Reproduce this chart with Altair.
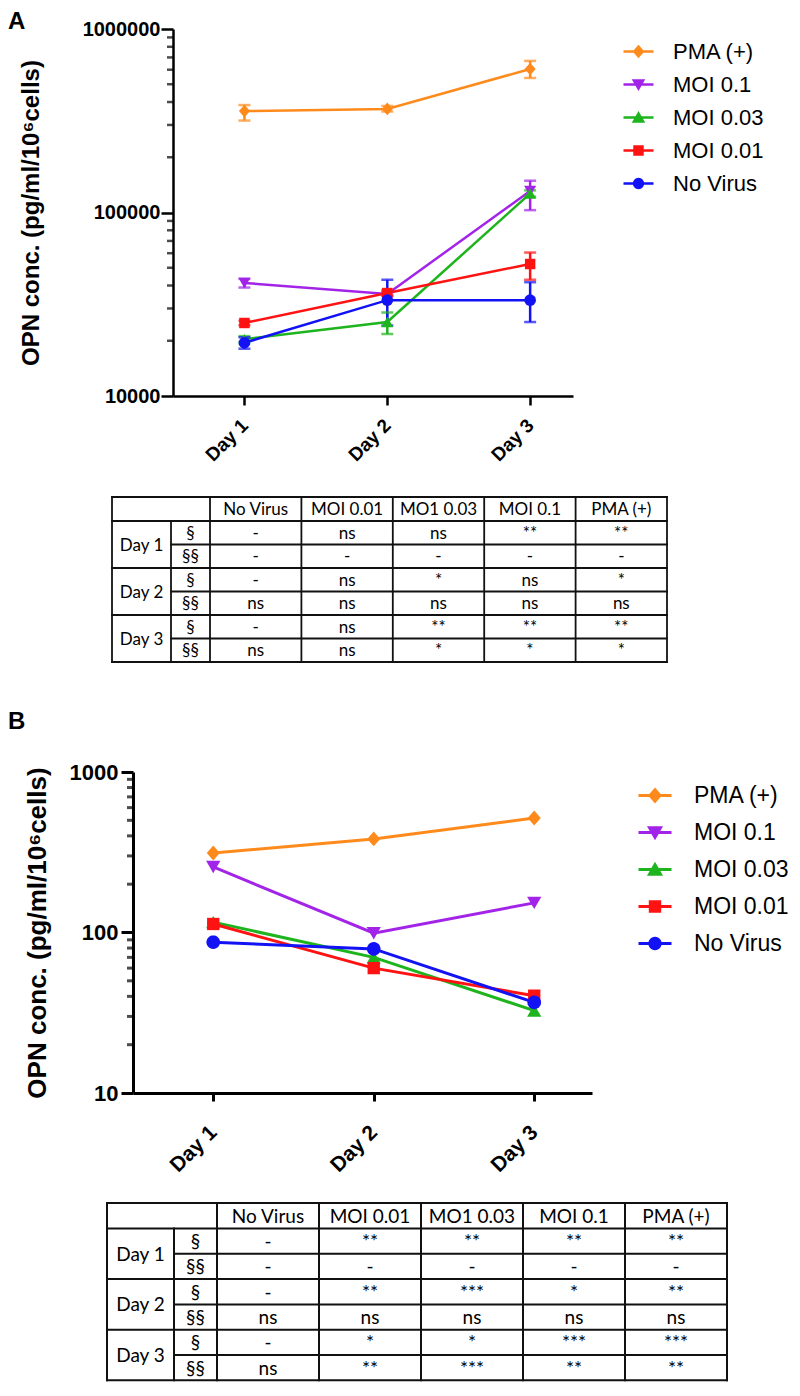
import math
import altair as alt
import pandas as pd

# ---------------- data ----------------
DAY_NUMS = [1, 2, 3]
DAY_LABELS = ["Day 1", "Day 2", "Day 3"]
SERIES = ["PMA (+)", "MOI 0.1", "MOI 0.03", "MOI 0.01", "No Virus"]
COLORS = ["#FF8A1C", "#A224E8", "#1EB41E", "#FF1212", "#1212F5"]
PANEL_TAGS = ["A", "B"]
Y_TITLE = "OPN conc. (pg/ml/10\u2076cells)"

# Panel A: mean with lower / upper error bar ends
A_PMA = [357000, 367000, 605000]
A_PMA_LO = [317000, 355000, 541000]
A_PMA_HI = [385000, 380000, 670000]
A_MOI01 = [41300, 36000, 131000]
A_MOI01_LO = [39000, 35200, 103000]
A_MOI01_HI = [43500, 36800, 149000]
A_MOI003 = [20400, 25300, 127000]
A_MOI003_LO = [19600, 21800, 122000]
A_MOI003_HI = [21200, 28500, 132000]
A_MOI001 = [25000, 36400, 52400]
A_MOI001_LO = [24300, 35300, 43000]
A_MOI001_HI = [25700, 37500, 60500]
A_NOV = [19500, 33300, 33300]
A_NOV_LO = [18100, 24200, 25300]
A_NOV_HI = [20900, 43000, 41700]

# Panel B: means
B_PMA = [313, 383, 517]
B_MOI01 = [256, 99, 153]
B_MOI003 = [116, 70, 32.6]
B_MOI001 = [113, 60, 40.4]
B_NOV = [87, 79, 36.7]

A_TICKS = [10000, 100000, 1000000]
A_MINOR = [20000, 30000, 40000, 50000, 60000, 70000, 80000, 90000,
           200000, 300000, 400000, 500000, 600000, 700000, 800000, 900000]
B_TICKS = [10, 100, 1000]
B_MINOR = [20, 30, 40, 50, 60, 70, 80, 90, 200, 300, 400, 500, 600, 700, 800, 900]

# Significance tables
TABLE_COLS = ["No Virus", "MOI 0.01", "MO1 0.03", "MOI 0.1", "PMA (+)"]
TABLE_DAYS = ["Day 1", "Day 2", "Day 3"]
TABLE_SUB = ["\u00a7", "\u00a7\u00a7"]
A_SIG = [
    ["-", "ns", "ns", "**", "**"],
    ["-", "-", "-", "-", "-"],
    ["-", "ns", "*", "ns", "*"],
    ["ns", "ns", "ns", "ns", "ns"],
    ["-", "ns", "**", "**", "**"],
    ["ns", "ns", "*", "*", "*"],
]
B_SIG = [
    ["-", "**", "**", "**", "**"],
    ["-", "-", "-", "-", "-"],
    ["-", "**", "***", "*", "**"],
    ["ns", "ns", "ns", "ns", "ns"],
    ["-", "*", "*", "***", "***"],
    ["ns", "**", "***", "**", "**"],
]

# ---------------- styles ----------------
FONT = "Liberation Sans"
TFONT = "Lato"

STYLE_A = dict(xdom=[0.5, 3.3], xrange=[40, 440], w=440, h=367, yoff=-40, titlex=-130,
               ylab=20, ytitle=24, xlab=19, xtick=9, lw=2.5, axw=2.5, psize=121,
               tag_dx=-165, tag_dy=-19, leg_x=489, leg_y=6, leg_fs=22, leg_lo=18,
               leg_rp=5, leg_r=15, leg_k=0.28, leg_sw=2.5, ylabpad=1, xlabpad=17)
STYLE_B = dict(xdom=[0.5, 3.36], xrange=[0, 459], w=459, h=321, yoff=0, titlex=-83,
               ylab=22, ytitle=26, xlab=21, xtick=8, lw=3, axw=3, psize=169,
               tag_dx=-125, tag_dy=-62, leg_x=504, leg_y=5.5, leg_fs=23, leg_lo=21,
               leg_rp=7, leg_r=16.5, leg_k=0.30, leg_sw=3, ylabpad=3, xlabpad=28)

TSTYLE_A = dict(left=-21, top=101, col_w=[59, 39] + [91.4] * 5, head_h=24, row_h=23.5,
                fs=17, lw=1.8, vw=560, vh=376)
TSTYLE_B = dict(left=-26, top=110, col_w=[67, 43] + [102] * 5, head_h=25.5, row_h=25.3,
                fs=19, lw=2.0, vw=560, vh=286)


def circle_pts(r, n=24):
    return [(r * math.cos(2 * math.pi * i / n), r * math.sin(2 * math.pi * i / n)) for i in range(n)]


MARKERS = [
    [(0, -1.15), (1, 0), (0, 1.15), (-1, 0)],            # diamond
    [(-1.1, -0.95), (1.1, -0.95), (0, 0.95)],            # triangle down
    [(-1.1, 0.95), (1.1, 0.95), (0, -0.95)],             # triangle up
    [(-0.95, -0.95), (0.95, -0.95), (0.95, 0.95), (-0.95, 0.95)],  # square
    circle_pts(1.05),                                     # circle
]


def poly(pts, k=1.0):
    return "M" + "L".join(f"{x * k:.3f},{y * k:.3f}" for x, y in pts) + "Z"


PLOT_PATHS = [poly(m) for m in MARKERS]


def legend_paths(k):
    return ["M-1,0L1,0" + poly(m, k) for m in MARKERS]


def expr_map(keys, vals):
    s = ""
    for key, val in zip(keys[:-1], vals[:-1]):
        s += f"datum.value === '{key}' ? '{val}' : "
    return s + f"'{vals[-1]}'"


def series_frame(means, los=None, his=None):
    rows = []
    for i, s in enumerate(SERIES):
        for j, d in enumerate(DAY_NUMS):
            r = {"series": s, "day": d, "mean": means[i][j]}
            if los is not None:
                r["lo"] = los[i][j]
                r["hi"] = his[i][j]
            rows.append(r)
    return pd.DataFrame(rows)


DF_A = series_frame([A_PMA, A_MOI01, A_MOI003, A_MOI001, A_NOV],
                    [A_PMA_LO, A_MOI01_LO, A_MOI003_LO, A_MOI001_LO, A_NOV_LO],
                    [A_PMA_HI, A_MOI01_HI, A_MOI003_HI, A_MOI001_HI, A_NOV_HI])
DF_B = series_frame([B_PMA, B_MOI01, B_MOI003, B_MOI001, B_NOV])

DAY_EXPR = "[" + ",".join(f"'{d}'" for d in DAY_LABELS) + "][datum.value - 1]"


def make_panel(df, tag, ticks, minor, st):
    xs = alt.Scale(domain=st["xdom"], range=st["xrange"], nice=False, zero=False)
    ys = alt.Scale(type="log", domain=[ticks[0], ticks[-1]], nice=False)
    xax = alt.Axis(values=DAY_NUMS, labelExpr=DAY_EXPR, labelAngle=-45,
                   labelAlign="right", labelBaseline="middle",
                   labelFontSize=st["xlab"], labelFontWeight="bold", labelColor="black",
                   labelFont=FONT, labelPadding=st["xlabpad"], tickSize=st["xtick"],
                   tickWidth=st["axw"], tickColor="black", domainWidth=st["axw"],
                   domainColor="black", grid=False, title=None, labelFlush=False)
    yax = alt.Axis(values=ticks, format="d", offset=st["yoff"], tickSize=12,
                   tickWidth=st["axw"], tickColor="black", domainWidth=st["axw"],
                   domainColor="black", labelFontSize=st["ylab"], labelFontWeight="bold",
                   labelColor="black", labelFont=FONT, labelPadding=st["ylabpad"],
                   title=Y_TITLE, titleFontSize=st["ytitle"], titleFontWeight="bold",
                   titleFont=FONT, titleColor="black", titleX=st["titlex"],
                   titleBaseline="bottom", grid=False, labelFlush=False)
    cscale = alt.Scale(domain=SERIES, range=COLORS)
    X = alt.X("day:Q", scale=xs, axis=xax)
    Y = alt.Y("mean:Q", scale=ys, axis=yax, title=Y_TITLE)

    r = st["leg_r"]
    legend = alt.Legend(
        orient="none", legendX=st["leg_x"], legendY=st["leg_y"], title=None,
        direction="vertical", labelFont=FONT, labelFontSize=st["leg_fs"],
        labelColor="black", labelOffset=st["leg_lo"], rowPadding=st["leg_rp"],
        padding=0, symbolSize=(2 * r) ** 2, symbolStrokeWidth=st["leg_sw"],
        symbolOpacity=1,
        symbolType=alt.ExprRef(expr=expr_map(SERIES, legend_paths(st["leg_k"]))),
        symbolFillColor=alt.ExprRef(expr=expr_map(SERIES, COLORS)),
        symbolStrokeColor=alt.ExprRef(expr=expr_map(SERIES, COLORS)),
    )
    base = alt.Chart(df)
    stroke_enc = alt.Stroke("series:N", scale=cscale, legend=None)
    fill_enc = alt.Fill("series:N", scale=cscale, legend=None)
    layers = [
        base.mark_line(strokeWidth=st["lw"]).encode(
            x=X, y=Y, color=alt.Color("series:N", scale=cscale, legend=legend))
    ]
    if "lo" in df.columns:
        layers.append(base.mark_rule(strokeWidth=st["lw"]).encode(
            x=X, y=alt.Y("lo:Q", scale=ys, axis=yax, title=Y_TITLE), y2="hi:Q", stroke=stroke_enc))
        for f in ["lo", "hi"]:
            layers.append(base.mark_tick(orient="horizontal", size=12, thickness=st["lw"]).encode(
                x=X, y=alt.Y(f"{f}:Q", scale=ys, axis=yax, title=Y_TITLE), fill=fill_enc))
    # one point layer per series, each with its own marker outline
    for s, path in zip(SERIES, PLOT_PATHS):
        layers.append(base.transform_filter(alt.datum.series == s).mark_point(
            filled=True, shape=path, size=st["psize"], opacity=1, strokeWidth=0).encode(
            x=X, y=Y, fill=fill_enc))
    layers.append(alt.Chart(pd.DataFrame({"v": minor})).mark_tick(
        orient="horizontal", size=6, thickness=st["axw"], color="black", xOffset=-3).encode(
        x=alt.X(datum=st["xdom"][0], scale=xs, axis=xax),
        y=alt.Y("v:Q", scale=ys, axis=yax, title=Y_TITLE)))
    layers.append(alt.Chart(pd.DataFrame({"tag": [tag]})).mark_text(
        align="left", baseline="top", dx=st["tag_dx"], dy=st["tag_dy"],
        fontSize=24, fontWeight="bold", font=FONT, color="black").encode(
        x=alt.X(datum=st["xdom"][0], scale=xs, axis=xax),
        y=alt.Y(datum=ticks[-1], scale=ys, axis=yax, title=Y_TITLE),
        text="tag:N"))
    return alt.layer(*layers).properties(width=st["w"], height=st["h"])


def make_table(sig, st):
    cw = st["col_w"]
    edges = [0]
    for w in cw:
        edges.append(edges[-1] + w)
    TW = edges[-1]
    hh, rh = st["head_h"], st["row_h"]
    TH = hh + 6 * rh
    xs = alt.Scale(domain=[0, TW], range=[st["left"], st["left"] + TW], nice=False, zero=False)
    ys = alt.Scale(domain=[0, TH], range=[st["top"], st["top"] + TH], nice=False, zero=False)

    lines = [dict(x1=0, x2=TW, y1=0, y2=0), dict(x1=0, x2=TW, y1=hh, y2=hh)]
    for k in range(1, 7):
        yk = hh + k * rh
        lines.append(dict(x1=edges[1] if k % 2 == 1 else 0, x2=TW, y1=yk, y2=yk))
    lines.append(dict(x1=0, x2=0, y1=0, y2=TH))
    lines.append(dict(x1=edges[1], x2=edges[1], y1=hh, y2=TH))
    for e in edges[2:]:
        lines.append(dict(x1=e, x2=e, y1=0, y2=TH))

    cells = []
    for c, name in enumerate(TABLE_COLS):
        cells.append(dict(cx=(edges[c + 2] + edges[c + 3]) / 2, cy=hh / 2, t=name))
    for d, day in enumerate(TABLE_DAYS):
        cells.append(dict(cx=(edges[0] + edges[1]) / 2, cy=hh + (2 * d + 1) * rh, t=day))
        for s, sub in enumerate(TABLE_SUB):
            r = 2 * d + s
            cy = hh + (r + 0.5) * rh
            cells.append(dict(cx=(edges[1] + edges[2]) / 2, cy=cy, t=sub))
            for c in range(5):
                cells.append(dict(cx=(edges[c + 2] + edges[c + 3]) / 2, cy=cy, t=sig[r][c]))

    rules = alt.Chart(pd.DataFrame(lines)).mark_rule(
        color="#111111", strokeWidth=st["lw"], strokeCap="square").encode(
        x=alt.X("x1:Q", scale=xs, axis=None), x2="x2:Q",
        y=alt.Y("y1:Q", scale=ys, axis=None), y2="y2:Q")
    text = alt.Chart(pd.DataFrame(cells)).mark_text(
        font=TFONT, fontSize=st["fs"], color="black", baseline="middle", align="center", dy=1).encode(
        x=alt.X("cx:Q", scale=xs, axis=None), y=alt.Y("cy:Q", scale=ys, axis=None), text="t:N")
    return alt.layer(rules, text).properties(width=st["vw"], height=st["vh"])


panel_a = make_panel(DF_A, PANEL_TAGS[0], A_TICKS, A_MINOR, STYLE_A)
panel_b = make_panel(DF_B, PANEL_TAGS[1], B_TICKS, B_MINOR, STYLE_B)
table_a = make_table(A_SIG, TSTYLE_A)
table_b = make_table(B_SIG, TSTYLE_B)

chart = alt.vconcat(
    panel_a, table_a, panel_b, table_b, spacing=0, bounds="flush",
    padding={"left": 0, "top": 2, "right": 0, "bottom": 0},
).resolve_scale(
    color="independent"
).resolve_legend(
    color="independent"
).configure(font=FONT).configure_view(stroke=None)

chart.save("out.html", embed_options={"renderer": "svg", "actions": False})
